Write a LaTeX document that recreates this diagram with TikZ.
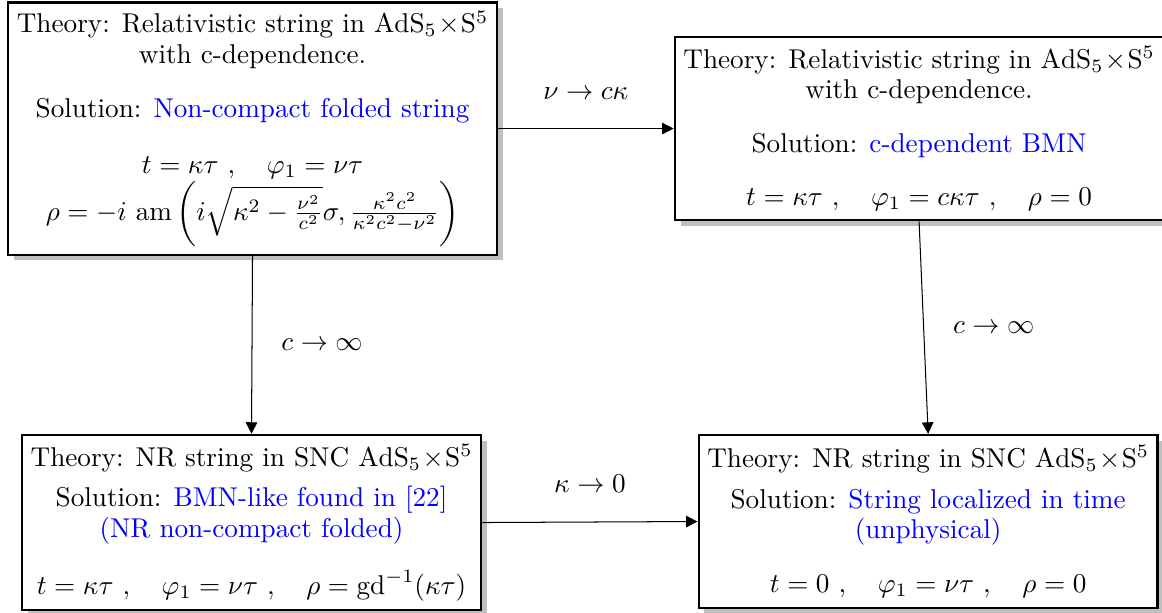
\RequirePackage{fix-cm}
\documentclass[tikz,border=0pt]{standalone}
\usepackage{amsmath}
\usepackage{amssymb}
\usepackage{xcolor}
\usepackage{tikz}
\usetikzlibrary{shadows,arrows.meta}

\tikzset{
  theorybox/.style={draw, line width=1pt, fill=white, align=center,
    drop shadow={shadow xshift=2.2pt, shadow yshift=-2.2pt, fill=gray!50, opacity=1}},
  limarrow/.style={-{Triangle[length=4.5pt,width=4.5pt]}, thin},
}

\begin{document}
\begin{tikzpicture}[scale=1.0, font=\fontsize{10.65pt}{12pt}\selectfont]
  \useasboundingbox (0,0) rectangle (16.0,8.43);
  % relativistic folded string, top left
  \node[theorybox, minimum width=6.73cm, minimum height=3.40cm] (fold) at (3.477,6.66)
    {Theory: Relativistic string in $\mathrm{AdS}_5\!\times\!\mathrm{S}^5$\\
     with c-dependence.\\[9pt]
     Solution: \textcolor{blue}{Non-compact folded string}\\[10pt]
     $t=\kappa\tau\ ,\quad \varphi_1=\nu\tau$\\
     $\rho=-i\ \mathrm{am}\left(i\sqrt{\kappa^2-\frac{\nu^2}{c^2}}\sigma,\frac{\kappa^2c^2}{\kappa^2c^2-\nu^2}\right)$};
  % c-dependent BMN, top right
  \node[theorybox, minimum width=6.64cm, minimum height=2.52cm] (bmn) at (12.655,6.66)
    {Theory: Relativistic string in $\mathrm{AdS}_5\!\times\!\mathrm{S}^5$\\
     with c-dependence.\\[9pt]
     Solution: \textcolor{blue}{c-dependent BMN}\\[9pt]
     $t=\kappa\tau\ ,\quad \varphi_1=c\kappa\tau\ ,\quad \rho=0$};
  % NR limit of the folded string, bottom left
  \node[theorybox, minimum width=6.32cm, minimum height=2.41cm] (nrfold) at (3.463,1.235)
    {Theory: NR string in SNC $\mathrm{AdS}_5\!\times\!\mathrm{S}^5$\\[4pt]
     Solution: \textcolor{blue}{BMN-like found in [22]}\\
     \textcolor{blue}{(NR non-compact folded)}\\[9pt]
     $t=\kappa\tau\ ,\quad \varphi_1=\nu\tau\ ,\quad \rho=\mathrm{gd}^{-1}(\kappa\tau)$};
  % string localized in time, bottom right
  \node[theorybox, minimum width=6.31cm, minimum height=2.38cm] (local) at (12.78,1.249)
    {Theory: NR string in SNC $\mathrm{AdS}_5\!\times\!\mathrm{S}^5$\\[4pt]
     Solution: \textcolor{blue}{String localized in time}\\
     \textcolor{blue}{(unphysical)}\\[9pt]
     $t=0\ ,\quad \varphi_1=\nu\tau\ ,\quad \rho=0$};
  % limits between the solutions
  \draw[limarrow] (fold.east) -- (bmn.west) node[midway, above=8pt] {$\nu\to c\kappa$};
  \draw[limarrow] (fold.south) -- (nrfold.north) node[midway, right=8pt] {$c\to\infty$};
  \draw[limarrow] (bmn.south) -- (local.north) node[midway, right=8pt] {$c\to\infty$};
  \draw[limarrow] (nrfold.east) -- (local.west) node[midway, above=8pt] {$\kappa\to 0$};
\end{tikzpicture}
\end{document}
